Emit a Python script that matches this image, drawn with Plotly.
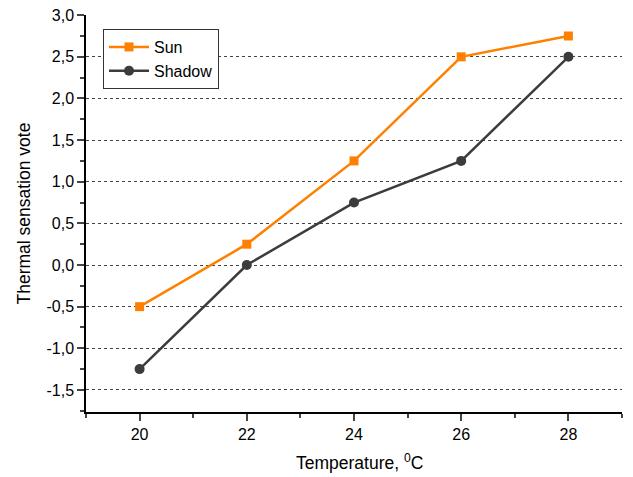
import plotly.graph_objects as go

temps = [20, 22, 24, 26, 28]
sun = [-0.5, 0.25, 1.25, 2.5, 2.75]
shadow = [-1.25, 0.0, 0.75, 1.25, 2.5]
y_ticks = [-1.5, -1.0, -0.5, 0.0, 0.5, 1.0, 1.5, 2.0, 2.5, 3.0]
y_labels = ["-1,5", "-1,0", "-0,5", "0,0", "0,5", "1,0", "1,5", "2,0", "2,5", "3,0"]
x_ticks = [20, 22, 24, 26, 28]

fig = go.Figure()
fig.add_trace(go.Scatter(x=temps, y=sun, name="Sun", mode="lines+markers",
                         line=dict(color="#FF8000", width=2.5),
                         marker=dict(symbol="square", size=9, color="#FF8000")))
fig.add_trace(go.Scatter(x=temps, y=shadow, name="Shadow", mode="lines+markers",
                         line=dict(color="#3C3C3C", width=2.5),
                         marker=dict(symbol="circle", size=10, color="#3C3C3C")))

ff = "Liberation Sans, Arial, sans-serif"
L, R, T, B = 86, 11, 15, 65
W, H = 633, 477
pw, ph = W - L - R, H - T - B

fig.update_layout(
    width=W, height=H,
    margin=dict(l=L, r=R, t=T, b=B, autoexpand=False),
    paper_bgcolor="white", plot_bgcolor="white",
    font=dict(family=ff, size=16, color="black"),
    showlegend=True,
    legend=dict(x=(103 - L) / pw, y=1 - (29 - T) / ph, xanchor="left", yanchor="top",
                bordercolor="#333333", borderwidth=1, bgcolor="white",
                font=dict(family=ff, size=16),
                tracegroupgap=0, itemwidth=40),
    annotations=[
        dict(text="Thermal sensation vote", xref="paper", yref="paper",
             x=(23 - L) / pw, y=0.5, xanchor="center", yanchor="middle",
             textangle=-90, showarrow=False, font=dict(family=ff, size=17.5)),
        dict(text="Temperature, <sup>0</sup>C", xref="paper", yref="paper",
             x=(359 - L) / pw, y=-(462 - (H - B)) / ph, xanchor="center", yanchor="middle",
             showarrow=False, font=dict(family=ff, size=17.5)),
    ],
)
fig.update_xaxes(range=[19, 29], tickvals=x_ticks, ticks="outside", ticklen=7,
                 tickwidth=1.5, showline=True, linecolor="black", linewidth=1.5,
                 showgrid=False, zeroline=False, automargin=False,
                 minor=dict(dtick=1, tick0=19, ticks="outside", ticklen=4, tickwidth=1.5, showgrid=False),
                 tickfont=dict(family=ff, size=16))
fig.update_yaxes(range=[-1.765, 3.002], tickvals=y_ticks, ticktext=y_labels, ticks="outside",
                 ticklen=7, tickwidth=1.5, showline=True, linecolor="black", linewidth=1.5,
                 showgrid=True, gridcolor="#444444", gridwidth=1, griddash="3px,3px",
                 zeroline=False, automargin=False,
                 minor=dict(dtick=0.25, tick0=0, ticks="outside", ticklen=4, tickwidth=1.5, showgrid=False),
                 tickfont=dict(family=ff, size=16))

fig.write_html("out.html")
